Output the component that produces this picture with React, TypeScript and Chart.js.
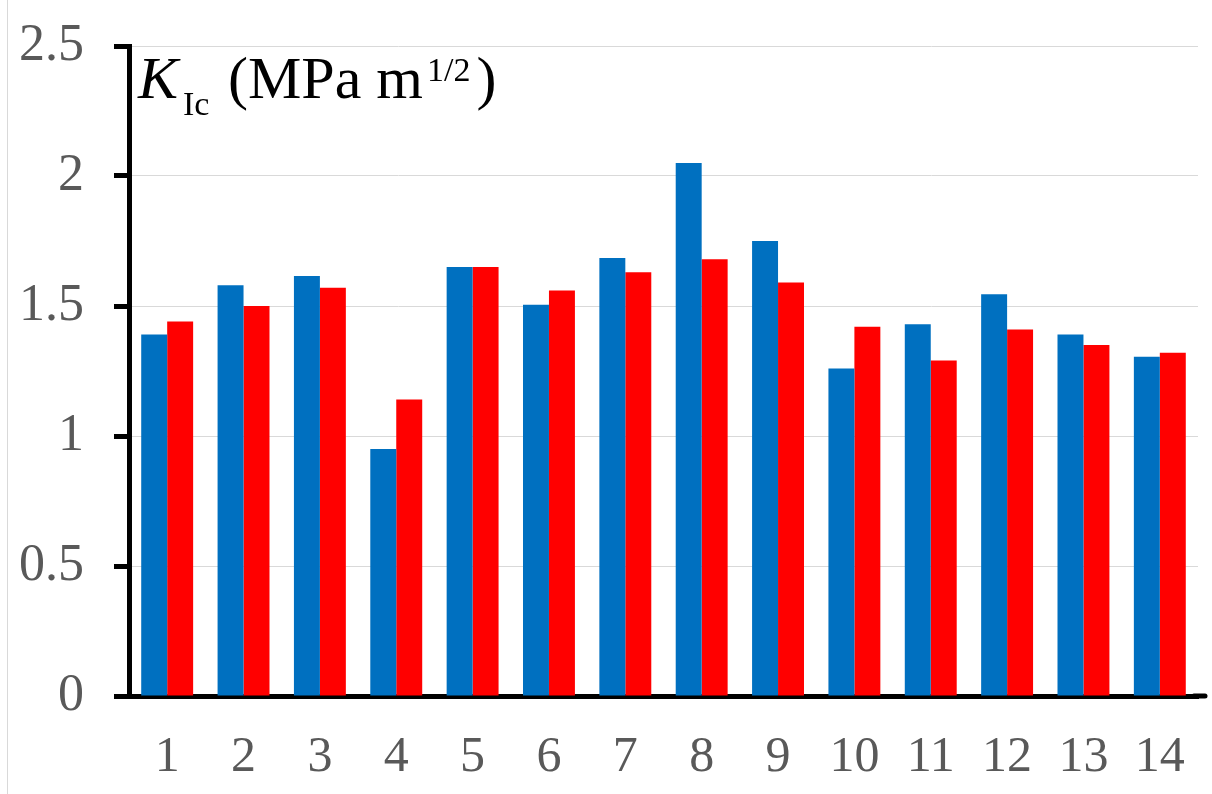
import React, { useEffect, useRef } from "react";
import { Chart, registerables } from "chart.js";

Chart.register(...registerables);

const categories = ["1", "2", "3", "4", "5", "6", "7", "8", "9", "10", "11", "12", "13", "14"];
const blueValues = [1.39, 1.58, 1.615, 0.95, 1.65, 1.505, 1.685, 2.05, 1.75, 1.26, 1.43, 1.545, 1.39, 1.305];
const redValues = [1.44, 1.5, 1.57, 1.14, 1.65, 1.56, 1.63, 1.68, 1.59, 1.42, 1.29, 1.41, 1.35, 1.32];
const yTickStep = 0.5;
const yMax = 2.5;
const titleMain = "K";
const titleSub = "Ic";
const titleUnit = "(MPa m";
const titleSup = "1/2";
const titleClose = ")";

const FONT = '"Liberation Serif", "Times New Roman", serif';

const decorPlugin = {
  id: "decor",
  beforeDraw(chart: any) {
    const { ctx } = chart;
    ctx.save();
    ctx.strokeStyle = "#d9d9d9";
    ctx.lineWidth = 1;
    ctx.beginPath();
    ctx.moveTo(7.5, 0);
    ctx.lineTo(7.5, chart.height);
    ctx.stroke();
    ctx.restore();
  },
  afterDraw(chart: any) {
    const { ctx, chartArea } = chart;
    ctx.save();
    ctx.strokeStyle = "#000";
    ctx.lineWidth = 5;
    ctx.lineCap = "round";
    ctx.beginPath();
    ctx.moveTo(chartArea.right - 4, chartArea.bottom);
    ctx.lineTo(chartArea.right + 7, chartArea.bottom);
    ctx.stroke();

    const x0 = chartArea.left + 9;
    const base = chartArea.top + 52;
    ctx.fillStyle = "#000";
    ctx.textBaseline = "alphabetic";
    ctx.textAlign = "left";
    ctx.font = `italic 60px ${FONT}`;
    ctx.fillText(titleMain, x0, base);
    ctx.font = `34px ${FONT}`;
    ctx.fillText(titleSub, x0 + 45, base + 17);
    ctx.font = `60px ${FONT}`;
    const ux = x0 + 90;
    ctx.fillText(titleUnit, ux, base);
    const w = ctx.measureText(titleUnit).width;
    ctx.font = `34px ${FONT}`;
    const sx = ux + w + 4;
    ctx.fillText(titleSup, sx, base - 17);
    const w2 = ctx.measureText(titleSup).width;
    ctx.font = `60px ${FONT}`;
    ctx.fillText(titleClose, sx + w2 + 6, base);
    ctx.restore();
  },
};

export default function App() {
  const ref = useRef<HTMLCanvasElement | null>(null);
  useEffect(() => {
    document.body.style.margin = "0";
    if (!ref.current) return;
    const chart = new Chart(ref.current, {
      type: "bar",
      data: {
        labels: categories,
        datasets: [
          {
            data: blueValues,
            backgroundColor: "#0070C0",
            borderWidth: 0,
            categoryPercentage: 0.68,
            barPercentage: 1.0,
          },
          {
            data: redValues,
            backgroundColor: "#FF0000",
            borderWidth: 0,
            categoryPercentage: 0.68,
            barPercentage: 1.0,
          },
        ],
      },
      options: {
        responsive: false,
        animation: false,
        layout: { padding: { top: 46, right: 14, left: 0, bottom: 0 } },
        plugins: {
          legend: { display: false },
          tooltip: { enabled: false },
          title: { display: false },
        },
        scales: {
          x: {
            grid: { display: false, drawTicks: false },
            border: { display: true, color: "#000", width: 5 },
            ticks: {
              color: "#595959",
              font: { family: FONT, size: 50 },
              padding: 32,
              maxRotation: 0,
              autoSkip: false,
            },
            afterFit(scale: any) {
              scale.height = 98;
              scale.paddingLeft = 0;
              scale.paddingRight = 0;
            },
          },
          y: {
            min: 0,
            max: yMax,
            grid: {
              color: "#d9d9d9",
              lineWidth: 1,
              tickColor: "#000",
              tickWidth: 5,
              tickLength: 15,
              drawTicks: true,
            },
            border: { display: true, color: "#000", width: 5 },
            ticks: {
              stepSize: yTickStep,
              color: "#595959",
              font: { family: FONT, size: 52 },
              padding: 30,
              callback: (v: any) => String(Number(v)),
            },
            afterFit(scale: any) {
              scale.width = 129;
              scale.paddingTop = 0;
              scale.paddingBottom = 0;
            },
          },
        },
      },
      plugins: [decorPlugin],
    });
    return () => chart.destroy();
  }, []);
  return (
    <div style={{ width: 1212, height: 794, background: "#fff" }}>
      <canvas ref={ref} width={1212} height={794} style={{ display: "block" }} />
    </div>
  );
}
